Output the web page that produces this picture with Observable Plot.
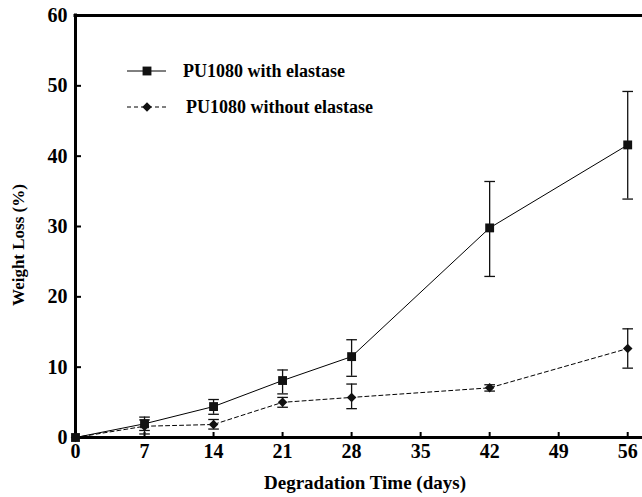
<!DOCTYPE html>
<html>
<head>
<meta charset="utf-8">
<script src="https://cdn.jsdelivr.net/npm/d3@7"></script>
<script src="https://cdn.jsdelivr.net/npm/@observablehq/plot@0.6"></script>
<style>
  html, body { margin: 0; padding: 0; background: white; }
  #chart { position: relative; width: 642px; height: 497px; }
</style>
</head>
<body>
<div id="chart"></div>
<script>
// ---- data ----
const days = [0, 7, 14, 21, 28, 42, 56];
const withMean = [0, 1.95, 4.4, 8.1, 11.5, 29.8, 41.6];
const withHi   = [0, 2.9, 5.4, 9.6, 13.9, 36.4, 49.2];
const withLo   = [0, 1.0, 3.3, 6.2, 8.7, 22.9, 33.9];
const withoutMean = [0, 1.6, 1.85, 5.0, 5.7, 7.06, 12.65];
const withoutHi   = [0, 2.5, 2.56, 5.7, 7.6, 7.5, 15.45];
const withoutLo   = [0, 0.5, 1.2, 4.3, 4.1, 6.6, 9.86];
const xTicks = [0, 7, 14, 21, 28, 35, 42, 49, 56];
const yTicks = [0, 10, 20, 30, 40, 50, 60];
const seriesNames = ["PU1080 with elastase", "PU1080 without elastase"];
const xTitle = "Degradation Time (days)";
const yTitle = "Weight Loss (%)";

const withRows = days.map((d, i) => ({day: d, v: withMean[i], hi: withHi[i], lo: withLo[i]}));
const withoutRows = days.map((d, i) => ({day: d, v: withoutMean[i], hi: withoutHi[i], lo: withoutLo[i]}));
const errRows = [...withRows, ...withoutRows].filter(r => r.hi > r.lo);

const cap = { draw(ctx, size) { const w = Math.sqrt(size) / 2; ctx.moveTo(-w, 0); ctx.lineTo(w, 0); } };

const font = "'Liberation Serif', 'Times New Roman', serif";

const chart = Plot.plot({
  width: 642,
  height: 497,
  marginLeft: 75,
  marginRight: 0,
  marginTop: 15,
  marginBottom: 60,
  style: {fontFamily: font, fontWeight: "bold", fontSize: "20px", color: "black", background: "white", overflow: "visible"},
  x: {domain: [0, 57.5]},
  y: {domain: [0, 60]},
  marks: [
    Plot.axisX({ticks: xTicks, tickSize: -5, tickPadding: 11, label: null, strokeWidth: 2, fontSize: 20}),
    Plot.axisY({ticks: yTicks, tickSize: -6, tickPadding: 14, label: null, strokeWidth: 2, fontSize: 20}),
    Plot.ruleX([0], {strokeWidth: 3, strokeLinecap: "square"}),
    Plot.ruleY([0], {strokeWidth: 3, strokeLinecap: "square"}),
    Plot.ruleY([60], {strokeWidth: 3, strokeLinecap: "square"}),
    Plot.ruleX(errRows, {x: "day", y1: "lo", y2: "hi", stroke: "#111", strokeWidth: 1.3}),
    Plot.dot(errRows, {x: "day", y: "hi", symbol: cap, r: 6, fill: "none", stroke: "#111", strokeWidth: 1.3}),
    Plot.dot(errRows, {x: "day", y: "lo", symbol: cap, r: 6, fill: "none", stroke: "#111", strokeWidth: 1.3}),
    Plot.line(withoutRows, {x: "day", y: "v", stroke: "black", strokeWidth: 1, strokeDasharray: "4,3"}),
    Plot.line(withRows, {x: "day", y: "v", stroke: "black", strokeWidth: 1}),
    Plot.dot(withoutRows, {x: "day", y: "v", symbol: "diamond2", r: 4.3, fill: "#111", stroke: "none"}),
    Plot.dot(withRows, {x: "day", y: "v", symbol: "square", r: 5, fill: "#111", stroke: "none"})
  ]
});
document.getElementById("chart").appendChild(chart);

const svg = d3.select(chart);

// ---- axis titles ----
svg.append("text").attr("x", 365).attr("y", 489)
  .attr("text-anchor", "middle").attr("font-family", font).attr("font-weight", "bold").attr("font-size", 19)
  .text(xTitle);
svg.append("text").attr("transform", "translate(24,245) rotate(-90)")
  .attr("text-anchor", "middle").attr("font-family", font).attr("font-weight", "bold").attr("font-size", 17)
  .text(yTitle);

// ---- legend (overlaid in the upper-left of the plot area) ----
const lg = svg.append("g").attr("font-family", font).attr("font-weight", "bold").attr("font-size", 18).attr("text-anchor", "start");
const legendItems = [
  {name: seriesNames[0], dash: null, symbol: d3.symbolSquare, size: Math.PI * 25},
  {name: seriesNames[1], dash: "4,3", symbol: d3.symbolDiamond2, size: Math.PI * 4.3 * 4.3}
];
legendItems.forEach((it, i) => {
  const y = 71 + i * 36;
  lg.append("line").attr("x1", 127).attr("x2", 166).attr("y1", y).attr("y2", y)
    .attr("stroke", "black").attr("stroke-width", 1).attr("stroke-dasharray", it.dash);
  lg.append("path").attr("d", d3.symbol(it.symbol, it.size)()).attr("transform", `translate(147,${y})`).attr("fill", "#111");
  lg.append("text").attr("x", 183 + i * 3).attr("y", y).attr("dy", "0.35em").text(it.name);
});
</script>
</body>
</html>
